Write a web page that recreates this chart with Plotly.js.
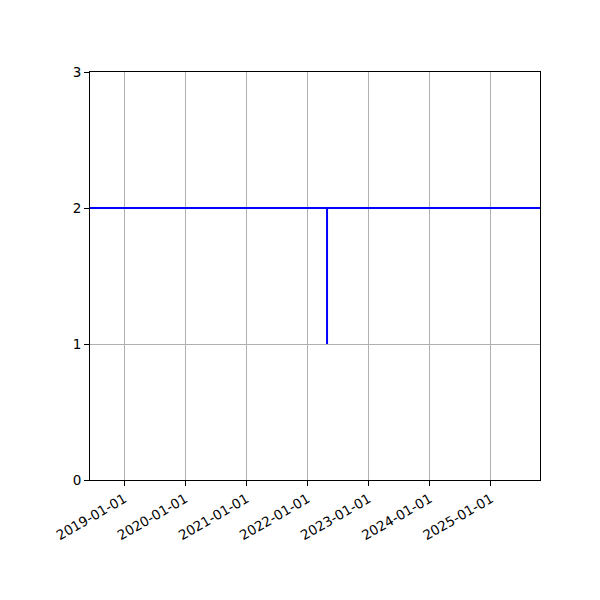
<!DOCTYPE html>
<html>
<head>
<meta charset="utf-8">
<script src="https://cdn.plot.ly/plotly-3.0.1.min.js"></script>
<style>
	body { margin: 0; background: #fff; }
	#chart { width: 600px; height: 600px; }
</style>
</head>
<body>
<div id="chart"></div>
<script>
// series
var dates = ["2018-06-10", "2022-04-27", "2022-04-27", "2022-04-27", "2025-10-21"];
var values = [2, 2, 1, 2, 2];

var x_ticks = ["2019-01-01", "2020-01-01", "2021-01-01", "2022-01-01",
	"2023-01-01", "2024-01-01", "2025-01-01"];
var y_ticks = [0, 1, 2, 3];

var trace =
{
	type: "scatter",
	mode: "lines",
	x: dates,
	y: values,
	line: {color: "#0000ff", width: 2},
	hoverinfo: "skip"
};

var axis_style =
{
	showline: true,
	linecolor: "#000",
	linewidth: 1,
	mirror: true,
	ticks: "outside",
	ticklen: 5,
	tickcolor: "#000",
	showgrid: true,
	gridcolor: "#b0b0b0",
	gridwidth: 1,
	zeroline: false,
	tickfont: {family: "DejaVu Sans", size: 13.5, color: "#000"}
};

var layout =
{
	width: 600,
	height: 600,
	margin: {l: 90, r: 60, t: 72, b: 120},
	paper_bgcolor: "#fff",
	plot_bgcolor: "#fff",
	showlegend: false,
	xaxis: Object.assign({}, axis_style, {
		type: "date",
		range: [dates[0], dates[dates.length - 1]],
		tickmode: "array",
		tickvals: x_ticks,
		ticktext: x_ticks,
		tickangle: -30
	}),
	yaxis: Object.assign({}, axis_style, {
		range: [0, 3],
		tickmode: "array",
		tickvals: y_ticks,
		ticktext: y_ticks.map(String)
	})
};

Plotly.newPlot("chart", [trace], layout, {displayModeBar: false, staticPlot: true});
</script>
</body>
</html>
